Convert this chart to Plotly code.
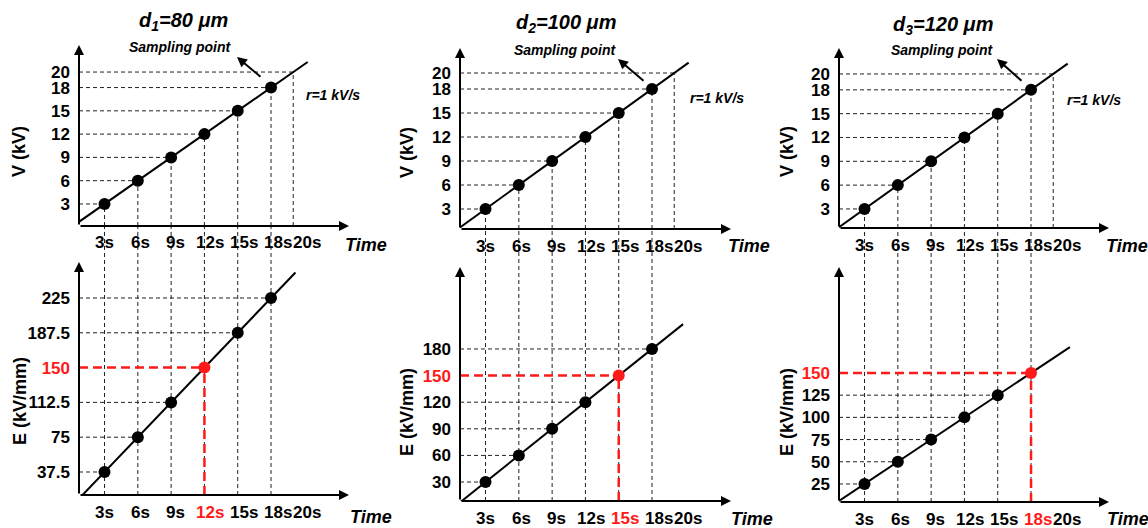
import plotly.graph_objects as go

W, H = 1148, 528
FONT = "Arial, Liberation Sans, sans-serif"
RED = "#ff1a1a"

# ---------------- data ----------------
times = [3, 6, 9, 12, 15, 18]
tick_times = [3, 6, 9, 12, 15, 18, 20]
time_labels = ["3s", "6s", "9s", "12s", "15s", "18s", "20s"]
voltage = [3, 6, 9, 12, 15, 18]
v_ticks = [3, 6, 9, 12, 15, 18, 20]
v_end = 20
field_d1 = [37.5, 75, 112.5, 150, 187.5, 225]
field_d2 = [30, 60, 90, 120, 150, 180]
field_d3 = [25, 50, 75, 100, 125, 150]
field_labels_d1 = ["37.5", "75", "112.5", "150", "187.5", "225"]
field_labels_d2 = ["30", "60", "90", "120", "150", "180"]
field_labels_d3 = ["25", "50", "75", "100", "125", "150"]
titles = ["d<sub>1</sub>=80 μm", "d<sub>2</sub>=100 μm", "d<sub>3</sub>=120 μm"]
breakdown_field = 150
breakdown_time = [12, 15, 18]
rate_label = "r=1 kV/s"

fields = [field_d1, field_d2, field_d3]
field_labels = [field_labels_d1, field_labels_d2, field_labels_d3]

# label nudges in px (styling: time labels in the reference drift slightly right)
label_shift = [0, 3, 4, 6, 6, 7, 14]

# ---------------- pixel geometry (styling) ----------------
cols = [
    dict(xc=79, xt=349, tyc=226, tyt=45, byc=495, byt=262, v0=0.16, ppv=7.76, e0=12.7, ppe=0.928,
         bend=20.2, title=(183, 22), samp=(180, 47), sarr=((262, 78), (237, 57)), rate=(333, 95),
         vlab=(19, 152), elab=(20, 401), ttop=(366, 245), tbot=(371, 517)),
    dict(xc=460, xt=731, tyc=229, tyt=48, byc=501, byt=267, v0=0.5, ppv=8.0, e0=8.6, ppe=0.887,
         bend=20.8, title=(566, 24), samp=(565, 50), sarr=((645, 82), (618, 59)), rate=(717, 98),
         vlab=(407, 152), elab=(407, 412), ttop=(749, 246), tbot=(752, 519)),
    dict(xc=839, xt=1109, tyc=228, tyt=48, byc=502, byt=267, v0=0.6, ppv=7.94, e0=4.7, ppe=0.888,
         bend=21.5, title=(943, 25), samp=(942, 50), sarr=((1023, 82), (997, 59)), rate=(1094, 100),
         vlab=(787, 152), elab=(787, 412), ttop=(1127, 246), tbot=(1128, 519)),
]
T0, PPS, TOP_END = 0.7, 11.1, 21.3
XLAB_DY = 17  # px below the x axis


def px(x):
    return x / W


def py(y):
    return 1 - y / H


fig = go.Figure()
shapes, annotations = [], []
layout = {}
dash_k = dict(color="#222222", width=1, dash="4px,3px")
dash_r = dict(color=RED, width=2.5, dash="9px,5px")
tickfont = dict(family=FONT, size=17, color="black", weight="bold")


def red(s):
    return '<span style="color:%s">%s</span>' % (RED, s)


for c, g in enumerate(cols):
    it, ib = 2 * c + 1, 2 * c + 2
    xt_id = "x" if it == 1 else "x%d" % it
    yt_id = "y" if it == 1 else "y%d" % it
    xb_id, yb_id = "x%d" % ib, "y%d" % ib
    xr = [T0, T0 + (g["xt"] - g["xc"]) / PPS]
    yr_t = [g["v0"], g["v0"] + (g["tyc"] - g["tyt"]) / g["ppv"]]
    yr_b = [g["e0"], g["e0"] + (g["byc"] - g["byt"]) / g["ppe"]]
    fld = fields[c]
    bt = breakdown_time[c]

    common_x = dict(range=xr, domain=[px(g["xc"]), px(g["xt"])], showgrid=False, zeroline=False,
                    showline=False, showticklabels=False, ticks="", fixedrange=True)
    layout["xaxis" if it == 1 else "xaxis%d" % it] = dict(common_x, anchor=yt_id)
    layout["xaxis%d" % ib] = dict(common_x, anchor=yb_id)
    layout["yaxis" if it == 1 else "yaxis%d" % it] = dict(
        range=yr_t, domain=[py(g["tyc"]), py(g["tyt"])], anchor=xt_id, showgrid=False, zeroline=False,
        showline=False, ticks="", tickvals=v_ticks, ticktext=[str(v) for v in v_ticks], tickfont=tickfont,
        ticklabelstandoff=8, fixedrange=True)
    layout["yaxis%d" % ib] = dict(
        range=yr_b, domain=[py(g["byc"]), py(g["byt"])], anchor=xb_id, showgrid=False, zeroline=False,
        showline=False, ticks="", tickvals=fld,
        ticktext=[red(l) if v == breakdown_field else l for v, l in zip(fld, field_labels[c])],
        tickfont=tickfont, ticklabelstandoff=8, fixedrange=True)

    # time labels under both x axes (placed with the x scale, nudged like the reference)
    for xid, ycorner, is_bottom in ((xt_id, g["tyc"], False), (xb_id, g["byc"], True)):
        for t, lab, sh in zip(tick_times, time_labels, label_shift):
            col = RED if (is_bottom and t == bt) else "black"
            annotations.append(dict(xref=xid, yref="paper", x=t, y=py(ycorner), xshift=sh, yshift=-XLAB_DY,
                                    text=lab, showarrow=False, xanchor="center", yanchor="middle",
                                    font=dict(family=FONT, size=17, color=col, weight="bold")))

    # ---- top panel: V(t)
    rate_v = voltage[0] / times[0]
    fig.add_trace(go.Scatter(x=[xr[0], TOP_END], y=[rate_v * xr[0], rate_v * TOP_END], mode="lines",
                             line=dict(color="black", width=2), xaxis=xt_id, yaxis=yt_id, showlegend=False))
    fig.add_trace(go.Scatter(x=times, y=voltage, mode="markers", marker=dict(color="black", size=12),
                             xaxis=xt_id, yaxis=yt_id, showlegend=False))
    for t, v in list(zip(times, voltage)) + [(v_end / rate_v, v_end)]:
        shapes.append(dict(type="line", xref=xt_id, yref=yt_id, x0=xr[0], x1=t, y0=v, y1=v, line=dash_k, layer="below"))
        shapes.append(dict(type="line", xref=xt_id, yref=yt_id, x0=t, x1=t, y0=yr_t[0], y1=v, line=dash_k, layer="below"))
    # verticals continuing through the gap and bottom panel
    for t in times:
        shapes.append(dict(type="line", xref=xt_id, yref="paper", x0=t, x1=t, y0=py(g["byc"]), y1=py(g["tyc"]),
                           line=dash_k, layer="below"))

    # ---- bottom panel: E(t)
    rate_e = fld[0] / times[0]
    fig.add_trace(go.Scatter(x=[xr[0], g["bend"]], y=[rate_e * xr[0], rate_e * g["bend"]], mode="lines",
                             line=dict(color="black", width=2), xaxis=xb_id, yaxis=yb_id, showlegend=False))
    blk_t = [t for t, e in zip(times, fld) if e != breakdown_field]
    blk_e = [e for e in fld if e != breakdown_field]
    fig.add_trace(go.Scatter(x=blk_t, y=blk_e, mode="markers", marker=dict(color="black", size=12),
                             xaxis=xb_id, yaxis=yb_id, showlegend=False))
    for t, e in zip(blk_t, blk_e):
        shapes.append(dict(type="line", xref=xb_id, yref=yb_id, x0=xr[0], x1=t, y0=e, y1=e, line=dash_k, layer="below"))
    shapes.append(dict(type="line", xref=xb_id, yref=yb_id, x0=xr[0], x1=bt, y0=breakdown_field,
                       y1=breakdown_field, line=dash_r, layer="below"))
    shapes.append(dict(type="line", xref=xb_id, yref=yb_id, x0=bt, x1=bt, y0=yr_b[0], y1=breakdown_field,
                       line=dash_r, layer="below"))
    fig.add_trace(go.Scatter(x=[bt], y=[breakdown_field], mode="markers", marker=dict(color=RED, size=12),
                             xaxis=xb_id, yaxis=yb_id, showlegend=False))

    # ---- axis arrows
    for yc, ytip in ((g["tyc"], g["tyt"]), (g["byc"], g["byt"])):
        annotations.append(dict(xref="paper", yref="paper", x=px(g["xc"]), y=py(ytip), ax=0, ay=yc - ytip,
                                showarrow=True, arrowhead=2, arrowsize=1, arrowwidth=2, arrowcolor="black",
                                text="", standoff=0))
        annotations.append(dict(xref="paper", yref="paper", x=px(g["xt"]), y=py(yc), ax=-(g["xt"] - g["xc"]),
                                ay=0, showarrow=True, arrowhead=2, arrowsize=1, arrowwidth=2, arrowcolor="black",
                                text="", standoff=0))
    # sampling point arrow
    (sx, sy), (ex, ey) = g["sarr"]
    annotations.append(dict(xref="paper", yref="paper", x=px(ex), y=py(ey), ax=sx - ex, ay=sy - ey,
                            showarrow=True, arrowhead=2, arrowsize=1, arrowwidth=2, arrowcolor="black",
                            text="", standoff=0))

    def txt(pos, s, size, italic=True, bold=True, angle=0, color="black"):
        annotations.append(dict(xref="paper", yref="paper", x=px(pos[0]), y=py(pos[1]), text=s,
                                showarrow=False, xanchor="center", yanchor="middle", textangle=angle,
                                font=dict(family=FONT, size=size, color=color,
                                          weight="bold" if bold else "normal",
                                          style="italic" if italic else "normal")))

    txt(g["title"], titles[c], 20)
    txt(g["samp"], "Sampling point", 14)
    txt(g["rate"], rate_label, 14)
    txt(g["vlab"], "V (kV)", 18, italic=False, angle=-90)
    txt(g["elab"], "E (kV/mm)", 18, italic=False, angle=-90)
    txt(g["ttop"], "Time", 18)
    txt(g["tbot"], "Time", 18)

layout.update(dict(width=W, height=H, margin=dict(l=0, r=0, t=0, b=0), paper_bgcolor="white",
                   plot_bgcolor="rgba(0,0,0,0)", shapes=shapes, annotations=annotations, showlegend=False,
                   font=dict(family=FONT)))
fig.update_layout(**layout)
fig.write_html("out.html", config=dict(displayModeBar=False),
               post_script="document.body.style.margin='0';document.body.style.overflow='hidden';")
